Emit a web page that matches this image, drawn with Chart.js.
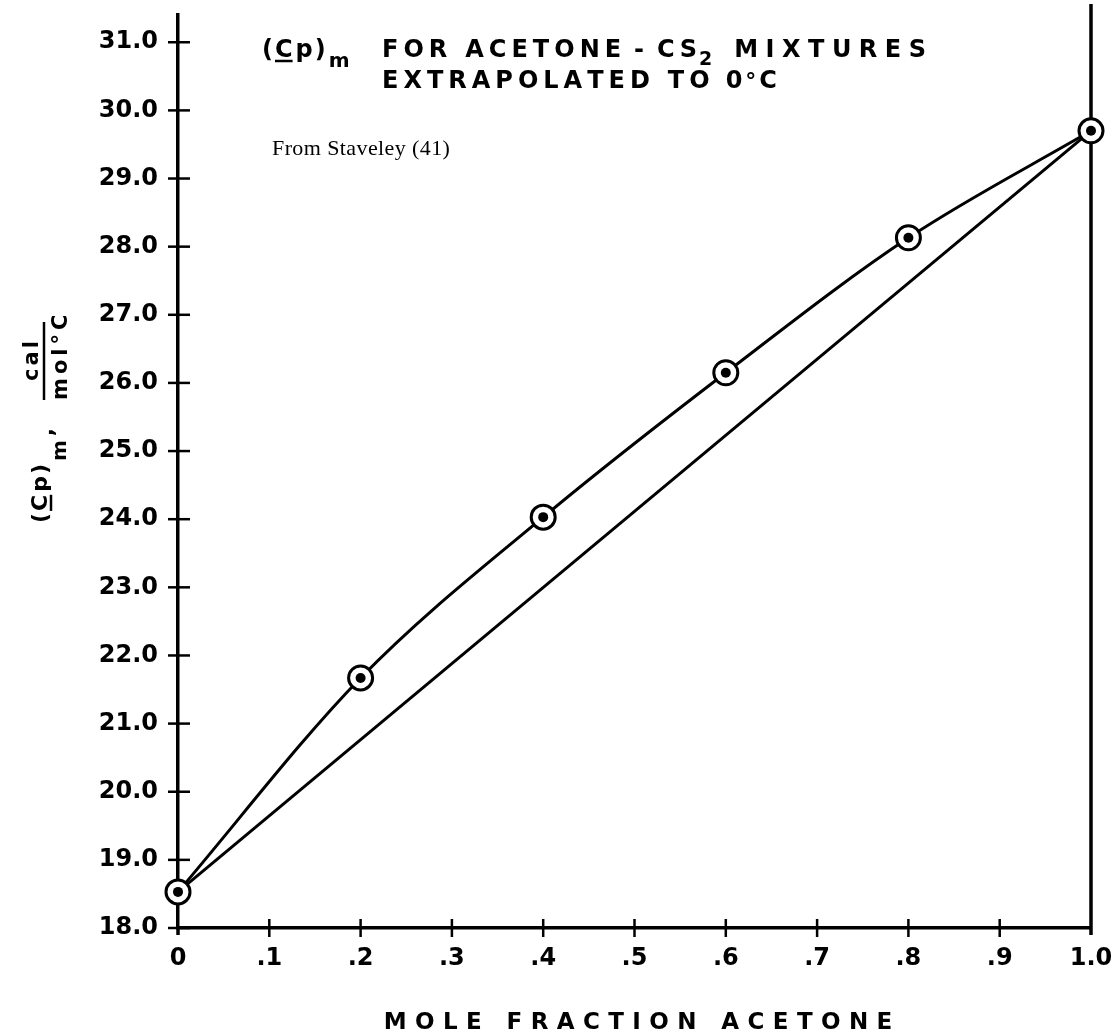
<!DOCTYPE html>
<html>
<head>
<meta charset="utf-8">
<script src="https://cdn.jsdelivr.net/npm/chart.js@4.4.1/dist/chart.umd.min.js"></script>
<style>
  html, body { margin: 0; padding: 0; background: #fff; }
  #wrap { width: 1118px; height: 1036px; position: relative; }
</style>
</head>
<body>
<div id="wrap"><canvas id="cp"></canvas></div>
<script>
// Mole fraction of acetone at the measured compositions
const moleFraction = [0, 0.2, 0.4, 0.6, 0.8, 1.0];
// Molar heat capacity of the mixture, cal/(mol °C), extrapolated to 0 °C
const cpMixture = [18.53, 21.67, 24.03, 26.15, 28.13, 29.70];
// Straight line joining the two pure-component values
const linearFraction = [0, 1.0];
const linearCp = [18.53, 29.70];

// Axis ticks
const xTicks = [0, 0.1, 0.2, 0.3, 0.4, 0.5, 0.6, 0.7, 0.8, 0.9, 1.0];
const xTickLabels = ['0', '.1', '.2', '.3', '.4', '.5', '.6', '.7', '.8', '.9', '1.0'];
const yTicks = [18, 19, 20, 21, 22, 23, 24, 25, 26, 27, 28, 29, 30, 31];
const yTickLabels = ['18.0', '19.0', '20.0', '21.0', '22.0', '23.0', '24.0',
                     '25.0', '26.0', '27.0', '28.0', '29.0', '30.0', '31.0'];

const toPoints = (xs, ys) => xs.map((x, i) => ({ x, y: ys[i] }));

const LETTER = "'DejaVu Sans', 'Liberation Sans', sans-serif";
const TYPE = "'Liberation Serif', 'DejaVu Serif', serif";

function line(ctx, x1, y1, x2, y2) {
  ctx.beginPath(); ctx.moveTo(x1, y1); ctx.lineTo(x2, y2); ctx.stroke();
}

// draw text one glyph at a time with extra spacing; returns end x
function spaced(ctx, text, x, y, gap) {
  const chars = Array.from(text);
  chars.forEach((ch, i) => {
    ctx.fillText(ch, x, y);
    x += ctx.measureText(ch).width + (i < chars.length - 1 ? gap : 0);
  });
  return x;
}
function spacedWidth(ctx, text, gap) {
  const chars = Array.from(text);
  return chars.reduce((w, ch) => w + ctx.measureText(ch).width, 0) + gap * (chars.length - 1);
}

// Crossing tick marks and the closing line at x = 1.0
const axisMarks = {
  id: 'axisMarks',
  beforeDatasetsDraw(chart) {
    const { ctx, chartArea: a, scales: { x, y } } = chart;
    ctx.save();
    ctx.strokeStyle = '#000';
    ctx.lineCap = 'butt';
    ctx.lineWidth = 2.5;
    yTicks.forEach(v => {
      const py = y.getPixelForValue(v);
      line(ctx, a.left - 10, py, a.left + 12, py);
    });
    xTicks.forEach(v => {
      if (v === 0 || v === 1) return;
      const px = x.getPixelForValue(v);
      line(ctx, px, a.bottom - 9, px, a.bottom + 9);
    });
    ctx.lineWidth = 3.5;
    const xr = x.getPixelForValue(1.0);
    line(ctx, xr, 4, xr, a.bottom + 7);
    line(ctx, a.left, a.bottom, a.left, a.bottom + 7);
    ctx.restore();
  }
};

// Heading, source note and axis titles
const lettering = {
  id: 'lettering',
  afterDraw(chart) {
    const ctx = chart.ctx;
    ctx.save();
    ctx.fillStyle = '#000';
    ctx.strokeStyle = '#000';
    ctx.textBaseline = 'alphabetic';
    ctx.textAlign = 'left';

    // heading, line 1
    const gap = 5;
    let base = 57;
    ctx.font = `bold 24px ${LETTER}`;
    let x = 262;
    ctx.fillText('(', x, base); x += ctx.measureText('(').width + 2;
    const cw = ctx.measureText('C').width;
    ctx.fillText('C', x, base);
    ctx.lineWidth = 2.5;
    line(ctx, x, base + 4, x + cw, base + 4);
    x += cw + 3;
    ctx.fillText('p', x, base); x += ctx.measureText('p').width + 2;
    ctx.fillText(')', x, base); x += ctx.measureText(')').width + 3;
    ctx.font = `bold 20px ${LETTER}`;
    ctx.fillText('m', x, base + 10);

    ctx.font = `bold 24px ${LETTER}`;
    x = spaced(ctx, 'FOR', 382, base, gap) + 18;
    x = spaced(ctx, 'ACETONE', x, base, gap) + 13;
    x = spaced(ctx, '-', x, base, gap) + 13;
    x = spaced(ctx, 'CS', x, base, gap);
    ctx.font = `bold 19px ${LETTER}`;
    ctx.fillText('2', x + 2, base + 8);
    x += ctx.measureText('2').width + 2 + 22;
    ctx.font = `bold 24px ${LETTER}`;
    spaced(ctx, 'MIXTURES', x, base, 7.5);

    // heading, line 2
    x = spaced(ctx, 'EXTRAPOLATED', 382, base + 31, gap) + 18;
    x = spaced(ctx, 'TO', x, base + 31, gap) + 16;
    x = spaced(ctx, '0', x, base + 31, gap) + 3;
    ctx.font = `bold 22px ${LETTER}`;
    ctx.fillText('°', x, base + 31); x += ctx.measureText('°').width + 3;
    ctx.font = `bold 24px ${LETTER}`;
    ctx.fillText('C', x, base + 31);

    // source note
    ctx.font = `22px ${TYPE}`;
    spaced(ctx, 'From Staveley (41)', 272, 155, 0.4);

    // x-axis title
    ctx.font = `bold 23px ${LETTER}`;
    const xt = 'MOLE FRACTION ACETONE';
    const xg = 8.4;
    const w = spacedWidth(ctx, xt, xg);
    spaced(ctx, xt, 638 - w / 2, 1029, xg);

    // y-axis title, rotated to read upwards
    ctx.save();
    ctx.rotate(-Math.PI / 2);
    // canvas point (cx, cy) is (-cy, cx) in this frame
    ctx.font = `bold 22px ${LETTER}`;
    let u = -523;
    const bx = 47;
    ctx.fillText('(', u, bx); u += ctx.measureText('(').width + 2;
    const cw2 = ctx.measureText('C').width;
    ctx.fillText('C', u, bx);
    ctx.lineWidth = 2.5;
    line(ctx, u, bx + 4, u + cw2, bx + 4);
    u += cw2 + 3;
    ctx.fillText('p', u, bx); u += ctx.measureText('p').width + 2;
    ctx.fillText(')', u, bx); u += ctx.measureText(')').width + 3;
    ctx.font = `bold 20px ${LETTER}`;
    ctx.fillText('m', u, bx + 19); u += ctx.measureText('m').width + 4;
    ctx.font = `bold 22px ${LETTER}`;
    ctx.fillText(',', u, bx + 6);
    // fraction cal / mol°C
    ctx.font = `bold 21px ${LETTER}`;
    const u0 = -400;
    const numW = spacedWidth(ctx, 'cal', 3);
    const barLen = 78;
    spaced(ctx, 'cal', u0 + (barLen - numW) / 2, 38, 3);
    ctx.lineWidth = 2.5;
    line(ctx, u0, 44, u0 + barLen, 44);
    spaced(ctx, 'mol°C', u0, 67, 4);
    ctx.restore();

    ctx.restore();
  }
};

const tickFont = { family: LETTER, weight: 'bold', size: 24 };

new Chart(document.getElementById('cp'), {
  type: 'scatter',
  data: {
    datasets: [
      {
        label: 'mixture',
        data: toPoints(moleFraction, cpMixture),
        showLine: true,
        cubicInterpolationMode: 'monotone',
        borderColor: '#000',
        borderWidth: 3,
        pointRadius: 12,
        pointBackgroundColor: '#fff',
        pointBorderColor: '#000',
        pointBorderWidth: 3,
        clip: false,
        order: 2
      },
      {
        label: 'centres',
        data: toPoints(moleFraction, cpMixture),
        showLine: false,
        pointRadius: 5,
        pointBackgroundColor: '#000',
        pointBorderWidth: 0,
        clip: false,
        order: 1
      },
      {
        label: 'linear',
        data: toPoints(linearFraction, linearCp),
        showLine: true,
        borderColor: '#000',
        borderWidth: 3,
        pointRadius: 0,
        clip: false,
        order: 3
      }
    ]
  },
  options: {
    responsive: true,
    maintainAspectRatio: false,
    animation: false,
    events: [],
    layout: { padding: { top: 13, right: 27, left: 0, bottom: 0 } },
    plugins: { legend: { display: false }, tooltip: { enabled: false } },
    scales: {
      x: {
        type: 'linear',
        min: 0,
        max: 1,
        grid: { display: false, drawTicks: false },
        border: { display: true, color: '#000', width: 3.5 },
        afterBuildTicks: s => { s.ticks = xTicks.map(v => ({ value: v })); },
        afterFit: s => { s.height = 108; s.paddingLeft = 0; s.paddingRight = 0; },
        ticks: {
          autoSkip: false,
          maxRotation: 0,
          padding: 16,
          color: '#000',
          font: tickFont,
          callback: (v, i) => xTickLabels[i]
        }
      },
      y: {
        type: 'linear',
        min: 18,
        max: 31.4,
        grid: { display: false, drawTicks: false },
        border: { display: true, color: '#000', width: 3.5 },
        afterBuildTicks: s => { s.ticks = yTicks.map(v => ({ value: v })); },
        afterFit: s => { s.width = 178; s.paddingTop = 0; s.paddingBottom = 0; },
        ticks: {
          autoSkip: false,
          padding: 20,
          color: '#000',
          font: tickFont,
          callback: (v, i) => yTickLabels[i]
        }
      }
    }
  },
  plugins: [axisMarks, lettering]
});
</script>
</body>
</html>
